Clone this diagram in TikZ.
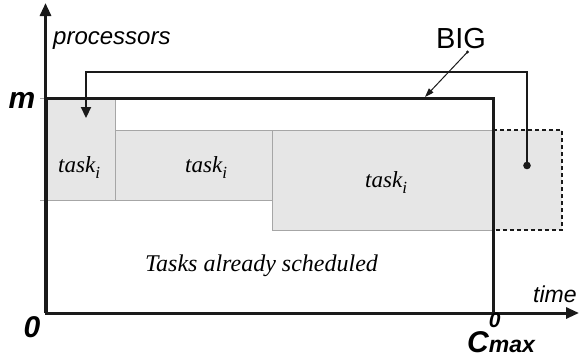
\documentclass[tikz,border=0pt]{standalone}
\usepackage{fontspec}
\setmainfont{Liberation Serif}
\setsansfont{Liberation Sans}
\usetikzlibrary{arrows.meta}

\definecolor{taskfill}{HTML}{E6E6E6}
\definecolor{taskedge}{HTML}{A6A6A6}
\definecolor{ink}{HTML}{1A1A1A}

\newcommand{\taskname}{{\fontsize{23}{23}\selectfont\itshape task}\raisebox{-6pt}{\fontsize{17}{17}\selectfont\itshape i}}

\begin{document}
\begin{tikzpicture}[x=1pt,y=-1pt,
  taskbox/.style={draw=taskedge, fill=taskfill, line width=0.8pt, inner sep=0pt, outer sep=0pt, anchor=north west},
  overflow/.style={fill=taskfill, draw=none, inner sep=0pt, outer sep=0pt, anchor=north west},
  bigbox/.style={draw=ink, line width=3pt, inner sep=0pt, outer sep=0pt, anchor=north west},
  axis/.style={draw=ink, line width=3pt, -{Triangle[length=13pt,width=11pt]}},
  route/.style={draw=ink, line width=2.2pt, -{Triangle[length=11pt,width=10pt]}},
  pointer/.style={draw=ink, line width=1pt, -{Triangle[length=9pt,width=6pt]}},
  dashedge/.style={draw=ink, line width=1.8pt, dash pattern=on 4pt off 3pt},
  tick/.style={draw=taskedge, line width=0.8pt},
  sflabel/.style={inner sep=0pt, font=\sffamily\itshape},
  boldlabel/.style={inner sep=0pt, font=\sffamily\bfseries\itshape},
  tasklabel/.style={inner sep=0pt, anchor=base west}]
\useasboundingbox (0,0) rectangle (580,362);

% tasks that are placed on the machine
\node[taskbox, minimum width=69pt, minimum height=102pt] (t1) at (46,98) {};
\node[taskbox, minimum width=157pt, minimum height=70pt] (t2) at (115,130) {};
\node[taskbox, minimum width=221pt, minimum height=100pt] (t3) at (272,130) {};
% part of the last task beyond the bound
\node[overflow, minimum width=69pt, minimum height=100pt] (over) at (493,130) {};
\draw[dashedge] (over.north west) -- (over.north east) -- (over.south east) -- (over.south west);

% gray ticks on the processor axis
\coordinate (tickA) at (40,98);
\coordinate (tickB) at (40,200);
\draw[tick] (tickA) -- (t1.north west);
\draw[tick] (tickB) -- (t1.south west);

% the big enclosing rectangle
\node[bigbox, minimum width=447pt, minimum height=215pt] (big) at (46,98) {};

% axes
\coordinate (origin) at (45.5,313);
\coordinate (ytip) at (45.5,3);
\coordinate (xtip) at (579,313);
\draw[axis] (origin) -- (ytip);
\draw[axis] (origin) -- (xtip);

% routing arrow from the overflow back to the first slot
\coordinate (dot) at (527,165.5);
\coordinate (corner) at (86,72);
\coordinate (droptip) at (86,118);
\draw[route] (dot) |- (corner) -- (droptip);
\fill[ink] (dot) circle (3.8);

% BIG label with its pointer
\node[sflabel, font=\sffamily, anchor=base] (biglbl) at (461,48) {\fontsize{29}{29}\selectfont BIG};
\coordinate (ptr) at (467.5,52);
\coordinate (ptrend) at (425,97);
\draw[pointer] (ptr) -- (ptrend);
\fill[ink] (ptr) circle (1.6);

% axis labels
\node[sflabel, anchor=base west] (proc) at (53,44) {\fontsize{24}{24}\selectfont processors};
\node[sflabel, anchor=base west] (time) at (533,302) {\fontsize{23}{23}\selectfont time};
\node[boldlabel, anchor=base] (mlbl) at (22,108) {\fontsize{30}{30}\selectfont m};
\node[boldlabel, anchor=base] (zero) at (32,337) {\fontsize{30}{30}\selectfont 0};
\node[boldlabel, anchor=base west] (cmax) at (467,352) {\fontsize{30}{30}\selectfont C\rlap{\raisebox{25pt}{\fontsize{21}{21}\selectfont 0}}\fontsize{23}{23}\selectfont max};

% task names
\node[tasklabel] (n1) at (58,172) {\taskname};
\node[tasklabel] (n2) at (185,172) {\taskname};
\node[tasklabel] (n3) at (365,187) {\taskname};
\node[inner sep=0pt, anchor=base] (sched) at (261.5,271) {\fontsize{24}{24}\selectfont\itshape Tasks already scheduled};
\end{tikzpicture}
\end{document}
